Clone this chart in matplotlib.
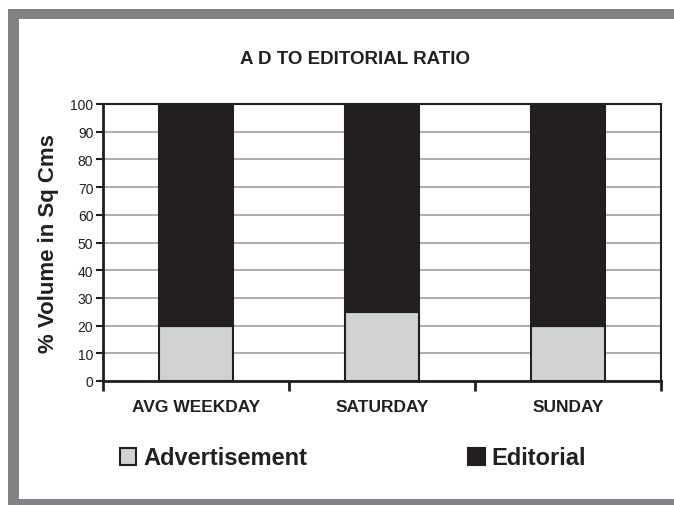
import matplotlib
matplotlib.use("Agg")
import matplotlib.pyplot as plt
from matplotlib.patches import Rectangle, Patch
import numpy as np

categories = ["AVG WEEKDAY", "SATURDAY", "SUNDAY"]
advertisement = [20, 25, 20]
editorial = [80, 75, 80]
yticks = [0, 10, 20, 30, 40, 50, 60, 70, 80, 90, 100]

W, H = 674, 506
plt.rcParams['font.family'] = ['Liberation Sans', 'DejaVu Sans']
fig = plt.figure(figsize=(W / 100, H / 100), dpi=100)
fig.patch.set_facecolor("white")

# gray frame
fig.patches.append(Rectangle((8 / W, 0), 1 - 8 / W, 1 - 10 / H, transform=fig.transFigure,
                             facecolor="#808285", edgecolor="none", zorder=-20))
fig.patches.append(Rectangle((19 / W, 6 / H), 1 - 19 / W, 1 - 20 / H - 6 / H, transform=fig.transFigure,
                             facecolor="white", edgecolor="none", zorder=-19))

ax = fig.add_axes([103 / W, 1 - 382 / H, (661 - 103) / W, (382 - 105) / H])
ax.set_zorder(5)
ax.set_facecolor("white")
x = np.arange(len(categories))
dark = "#231f20"
light = "#d1d2d4"
ax.bar(x, advertisement, width=0.4, color=light, edgecolor=dark, linewidth=1.5, zorder=3,
       label="Advertisement")
ax.bar(x, editorial, width=0.4, bottom=advertisement, color=dark, edgecolor=dark, linewidth=1.5,
       zorder=3, label="Editorial")

ax.set_xlim(-0.5, 2.5)
ax.set_ylim(0, 100)
ax.set_yticks(yticks)
ax.yaxis.grid(True, color="#9d9fa2", linewidth=1.2, zorder=0)
ax.set_axisbelow(True)
ax.set_xticks(x)
ax.set_xticklabels(categories, fontsize=12.5, fontweight="bold", color=dark)
ax.tick_params(axis="x", length=0, pad=13)
ax.set_xticks([-0.5, 0.5, 1.5, 2.5], minor=True)
ax.tick_params(axis="x", which="minor", length=7, width=2, color=dark, direction="out")
ax.tick_params(axis="y", length=5, width=1.5, color=dark, labelsize=10, labelcolor=dark, pad=2)
for s in ["left", "bottom"]:
    ax.spines[s].set_linewidth(2)
    ax.spines[s].set_color(dark)
for s in ["top", "right"]:
    ax.spines[s].set_linewidth(1.5)
    ax.spines[s].set_color(dark)

ax.set_ylabel("% Volume in Sq Cms", fontsize=16, fontweight="bold", color=dark, labelpad=8)

fig.text(355 / W, 1 - 60 / H, "A D TO EDITORIAL RATIO", ha="center", va="center",
         fontsize=13.5, fontweight="bold", color=dark)

handles = [Patch(facecolor=light, edgecolor=dark, linewidth=1.5),
           Patch(facecolor=dark, edgecolor=dark, linewidth=1.5)]
fig.legend(handles, ["Advertisement", "Editorial"], loc="center", bbox_to_anchor=(353 / W, 1 - 459 / H),
           ncol=2, frameon=False, prop={"weight": "bold", "size": 17},
           handlelength=0.7, handleheight=0.7, handletextpad=0.3, columnspacing=6.8,
           labelcolor=dark)

fig.savefig("out.png", dpi=100)
